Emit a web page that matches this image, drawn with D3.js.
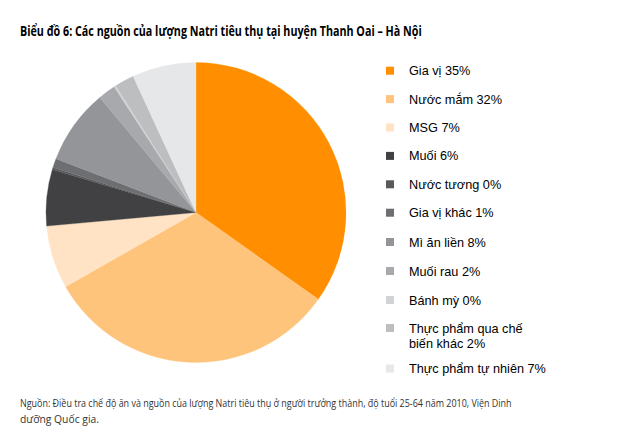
<!DOCTYPE html>
<html><head><meta charset="utf-8">
<script src="https://cdn.jsdelivr.net/npm/d3@7"></script>
<style>body{margin:0;background:#fff;}svg{display:block;}</style>
</head><body>
<script>
const categories = ["Gia vị","Nước mắm","MSG","Muối","Nước tương","Gia vị khác","Mì ăn liền","Muối rau","Bánh mỳ","Thực phẩm qua chế biến khác","Thực phẩm tự nhiên"];
const values = [34.9, 32.0, 6.8, 6.1, 0.2, 1.0, 8.1, 1.9, 0.2, 2.1, 6.9];
const labels = ["Gia vị 35%","Nước mắm 32%","MSG 7%","Muối 6%","Nước tương 0%","Gia vị khác 1%","Mì ăn liền 8%","Muối rau 2%","Bánh mỳ 0%",["Thực phẩm qua chế","biến khác 2%"],"Thực phẩm tự nhiên 7%"];
const colors = ["#FF8F00","#FFC47C","#FFE3C4","#414042","#58595B","#6D6E71","#939598","#A7A9AC","#D1D3D4","#BCBEC0","#E6E7E8"];
const title = "Biểu đồ 6: Các nguồn của lượng Natri tiêu thụ tại huyện Thanh Oai – Hà Nội";
const source = ["Nguồn: Điều tra chế độ ăn và nguồn của lượng Natri tiêu thụ ở người trưởng thành, độ tuổi 25-64 năm 2010, Viện Dinh","dưỡng Quốc gia."];

const W=625,H=438;
const svg=d3.select("body").append("svg").attr("width",W).attr("height",H);

function fitText(sel, x, y, target){
  const n = sel.node().getComputedTextLength();
  const k = target / n;
  sel.attr("x",0).attr("y",0).attr("transform",`translate(${x},${y}) scale(${k},1)`);
}

const tt = svg.append("text")
  .attr("font-family","'Open Sans', sans-serif").attr("font-weight","bold").attr("font-size",13.5)
  .attr("fill","#000").text(title);
fitText(tt,20,36,402);

const data = categories.map((c,i)=>({c,v:values[i],col:colors[i],lab:labels[i]}));
const pie=d3.pie().sort(null).value(d=>d.v);
const arc=d3.arc().innerRadius(0).outerRadius(150);
const g=svg.append("g").attr("transform","translate(196,212.5)");
g.selectAll("path").data(pie(data)).join("path").attr("d",arc).attr("fill",d=>d.data.col)
  .attr("stroke",d=>d.data.col).attr("stroke-width",0.3);

// legend
const ys=[70.7,99.1,127.5,155.9,184.3,212.7,242,271,300,328,368.5];
const lg=svg.append("g");
data.forEach((d,i)=>{
  const y=ys[i];
  lg.append("rect").attr("x",386).attr("y",y-4).attr("width",8).attr("height",8).attr("fill",d.col);
  const t=lg.append("text").attr("x",409).attr("y",y+4.5).attr("font-family","'Liberation Sans', Arial, sans-serif")
    .attr("font-size",12.7).attr("fill","#000");
  const lines=Array.isArray(d.lab)?d.lab:[d.lab];
  lines.forEach((l,j)=>t.append("tspan").attr("x",409).attr("dy",j?15.6:0).text(l));
});

const widths=[492,79];
source.forEach((s,i)=>{
  const t=svg.append("text")
    .attr("font-family","'Open Sans', sans-serif").attr("font-size",11.5).attr("fill","#333").text(s);
  fitText(t,20,407+i*15.5,widths[i]);
});
</script>
</body></html>
